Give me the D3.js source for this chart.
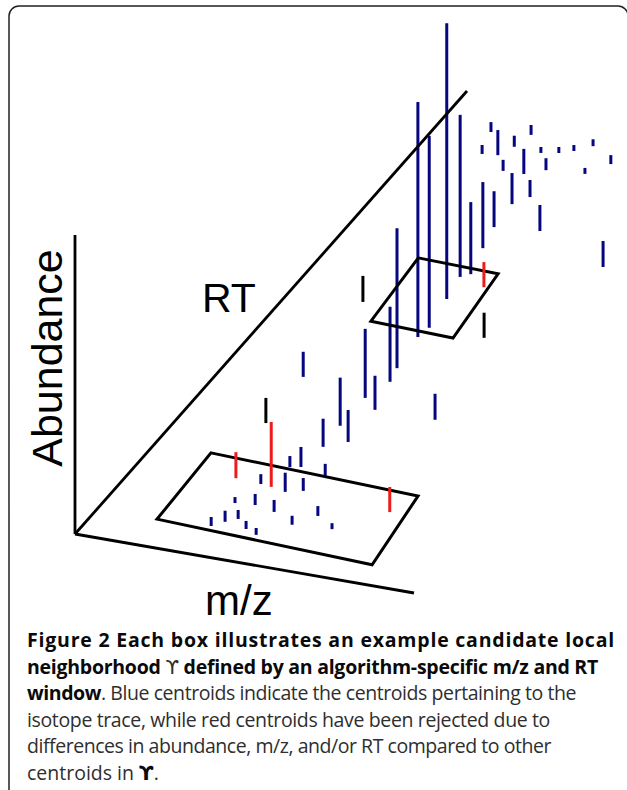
<!DOCTYPE html>
<html>
<head>
<meta charset="utf-8">
<script src="https://cdn.jsdelivr.net/npm/d3@7"></script>
<style>
  body { margin: 0; background: #fff; }
  svg { display: block; }
</style>
</head>
<body>
<svg id="fig" width="627" height="790"></svg>
<script>
// centroids: m/z and RT in % of their axis length, abundance in % of the abundance axis
const blueMz = [41.9, 43.1, 43.9, 40.3, 42.4, 39.6, 37.7, 15.4, 18.1, 22.4,
  24.7, 26.3, 27.3, 33.3, 32.9, 38.1, 37.5, 40.9, 44.7, 53.3,
  48.9, 37.1, 40.1, 50.3, 74.6, 44.8, 46.1, 43.4, 48.6, 43.3,
  49.0, 43.7, 22.8, 66.2, 42.6, 39.8, 50.8, 36.2, 44.2, 48.6,
  33.9, 39.5, 45.9, 58.0, 33.0, 35.6, 38.3, 42.6, 53.4, 46.5, 64.6];
const blueRt = [58.6, 50.2, 52.4, 63.4, 64.3, 69.8, 74.3, 92.8, 88.2, 88.5,
  90.7, 93.6, 85.6, 85.7, 90.4, 87.2, 91.0, 91.9, 93.5, 90.6,
  87.8, 79.4, 81.4, 75.1, 70.2, 43.4, 40.5, 36.5, 34.5, 30.2,
  27.3, 25.5, 38.5, 34.6, 20.8, 20.4, 19.9, 16.1, 15.4, 16.2,
  11.5, 11.8, 11.1, 11.8, 6.2, 7.5, 8.5, 6.8, 9.2, 6.0, 9.7];
const blueAbundance = [92.3, 78.6, 64.2, 54.2, 24.1, 22.1, 12.0, 3.3, 3.0, 8.4,
  3.7, 3.3, 3.7, 8.4, 2.0, 4.0, 2.0, 2.0, 2.3, 3.0,
  2.0, 10.4, 5.7, 8.7, 8.7, 46.8, 25.1, 23.1, 11.4, 16.1,
  10.7, 9.4, 8.4, 8.7, 6.7, 3.7, 4.0, 3.3, 6.4, 4.3,
  2.0, 3.7, 4.0, 3.3, 3.0, 3.7, 3.0, 2.7, 3.0, 2.3, 2.0];

const redMz = [28.5, 39.5, 75.5, 48.7];
const redRt = [16.4, 15.9, 15.0, 62.2];
const redAbundance = [8.7, 21.7, 8.4, 8.4];

// black "I" markers next to the windows
const markerMz = [21.1, 23.7, 60.2];
const markerRt = [55.2, 28.2, 52.3];
const markerAbundance = [8.7, 8.4, 8.4];

// candidate neighbourhood windows, corners as [m/z, RT]
const windowLower = [[16.4, 20.5], [79.1, 19.1], [82.9, 4.1], [17.6, 5.7]];
const windowUpper = [[25.3, 65.7], [49.3, 65.3], [52.3, 51.2], [27.5, 51.7]];

const axisLabels = ["Abundance", "RT", "m/z"];

const captionLines = [
  [["Figure 2 Each box illustrates an example candidate local", true]],
  [["neighborhood ", true], ["\u03D2", false], [" defined by an algorithm-specific m/z and RT", true]],
  [["window", true], [". Blue centroids indicate the centroids pertaining to the", false]],
  [["isotope trace, while red centroids have been rejected due to", false]],
  [["differences in abundance, m/z, and/or RT compared to other", false]],
  [["centroids in ", false], ["\u03D2", true], [".", false]]
];
const captionEnds = [615, 598, 576, 550, 551, null];

const svg = d3.select("#fig");

// frame
svg.append("rect")
  .attr("x", 9).attr("y", 6)
  .attr("width", 619).attr("height", 793)
  .attr("rx", 10)
  .attr("fill", "none")
  .attr("stroke", "#222")
  .attr("stroke-width", 1.5);

// oblique projection of the (m/z, RT, abundance) space
const origin = [75, 534];
const mzX = d3.scaleLinear().domain([0, 100]).range([0, 339]);
const mzY = d3.scaleLinear().domain([0, 100]).range([0, 59]);
const rtX = d3.scaleLinear().domain([0, 100]).range([0, 392]);
const rtY = d3.scaleLinear().domain([0, 100]).range([0, -443]);
const abY = d3.scaleLinear().domain([0, 100]).range([0, -299]);

function project(mz, rt, ab) {
  return [origin[0] + mzX(mz) + rtX(rt), origin[1] + mzY(mz) + rtY(rt) + abY(ab)];
}

function centroids(mz, rt, ab) {
  return mz.map((m, i) => ({ mz: m, rt: rt[i], ab: ab[i] }));
}

function drawSticks(g, data, colour) {
  g.selectAll(null)
    .data(data)
    .enter()
    .append("line")
    .attr("x1", d => project(d.mz, d.rt, 0)[0])
    .attr("y1", d => project(d.mz, d.rt, 0)[1])
    .attr("x2", d => project(d.mz, d.rt, d.ab)[0])
    .attr("y2", d => project(d.mz, d.rt, d.ab)[1])
    .attr("stroke", colour)
    .attr("stroke-width", 3);
}

const plot = svg.append("g");

drawSticks(plot.append("g"), centroids(blueMz, blueRt, blueAbundance), "#06067f");

// windows
const windowPath = d3.line().x(d => project(d[0], d[1], 0)[0]).y(d => project(d[0], d[1], 0)[1]);
plot.selectAll(".window")
  .data([windowLower, windowUpper])
  .enter()
  .append("path")
  .attr("d", d => windowPath(d) + "Z")
  .attr("fill", "none")
  .attr("stroke", "#000")
  .attr("stroke-width", 3)
  .attr("stroke-linejoin", "miter");

// axes
const axisEnds = [[100, 0, 0], [0, 100, 0], [0, 0, 100]];
plot.selectAll(".axis")
  .data(axisEnds)
  .enter()
  .append("line")
  .attr("x1", origin[0]).attr("y1", origin[1])
  .attr("x2", d => project(d[0], d[1], d[2])[0])
  .attr("y2", d => project(d[0], d[1], d[2])[1])
  .attr("stroke", "#000")
  .attr("stroke-width", 2.8);

drawSticks(plot.append("g"), centroids(redMz, redRt, redAbundance), "#ee1b1b");
drawSticks(plot.append("g"), centroids(markerMz, markerRt, markerAbundance), "#000");

// axis titles
const labelFont = "'Liberation Sans', Arial, sans-serif";
plot.append("text")
  .attr("transform", "translate(62,358) rotate(-90)")
  .attr("text-anchor", "middle")
  .style("font-family", labelFont)
  .style("font-size", "43px")
  .text(axisLabels[0]);
plot.append("text")
  .attr("x", 202).attr("y", 312)
  .style("font-family", labelFont)
  .style("font-size", "41px")
  .text(axisLabels[1]);
plot.append("text")
  .attr("x", 205).attr("y", 615)
  .style("font-family", labelFont)
  .style("font-size", "42px")
  .text(axisLabels[2]);

// caption
const caption = svg.append("g")
  .style("font-family", "'Open Sans', 'Noto Sans', sans-serif")
  .style("font-size", "19.5px");

captionLines.forEach((segments, i) => {
  const t = caption.append("text")
    .attr("x", 27)
    .attr("y", 647 + i * 26.6);
  segments.forEach(([txt, bold]) => {
    t.append("tspan")
      .attr("font-weight", bold ? "bold" : "normal")
      .attr("fill", bold ? "#0a0a0a" : "#2e2e2e")
      .style("font-family", txt === "\u03D2" ? "'DejaVu Sans', sans-serif" : null)
      .text(txt);
  });
  if (captionEnds[i]) {
    const natural = t.node().getComputedTextLength();
    const chars = segments.map(s => s[0]).join("").length;
    t.style("letter-spacing", ((captionEnds[i] - 27 - natural) / chars) + "px");
  }
});
</script>
</body>
</html>
